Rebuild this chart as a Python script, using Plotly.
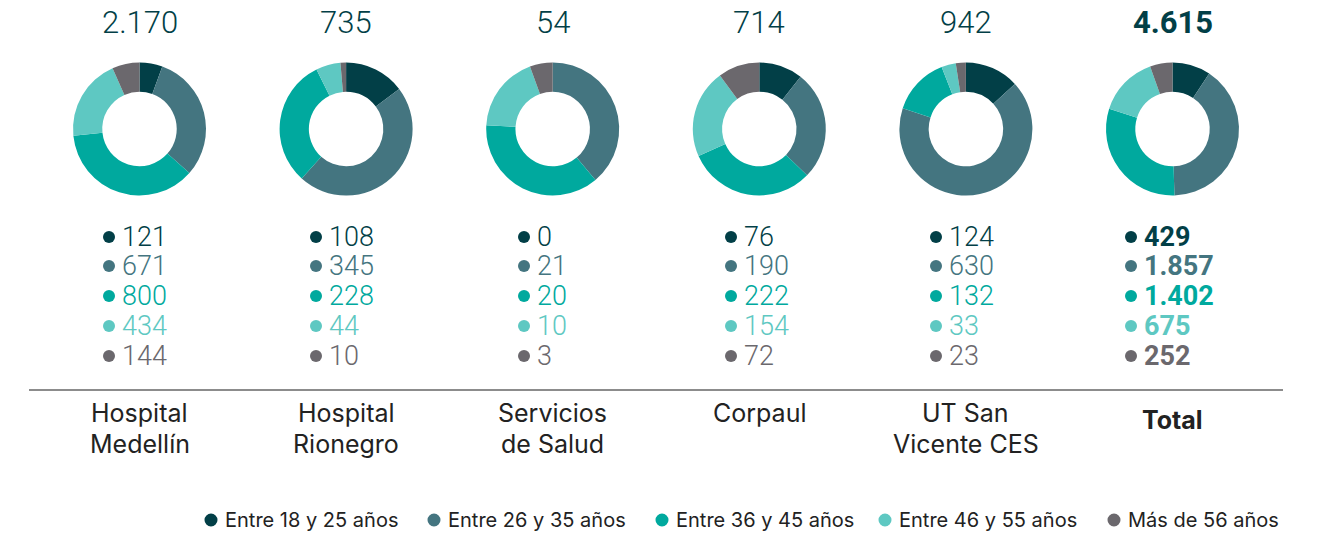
import plotly.graph_objects as go

W, H = 1326, 536

categories = ["Hospital Medellín", "Hospital Rionegro", "Servicios de Salud", "Corpaul", "UT San Vicente CES", "Total"]
category_lines = [["Hospital", "Medellín"], ["Hospital", "Rionegro"], ["Servicios", "de Salud"], ["Corpaul"], ["UT San", "Vicente CES"], ["Total"]]
totals = ["2.170", "735", "54", "714", "942", "4.615"]
age_groups = ["Entre 18 y 25 años", "Entre 26 y 35 años", "Entre 36 y 45 años", "Entre 46 y 55 años", "Más de 56 años"]

hosp_medellin = [121, 671, 800, 434, 144]
hosp_rionegro = [108, 345, 228, 44, 10]
servicios_salud = [0, 21, 20, 10, 3]
corpaul = [76, 190, 222, 154, 72]
ut_san_vicente = [124, 630, 132, 33, 23]
total = [429, 1857, 1402, 675, 252]
series = [hosp_medellin, hosp_rionegro, servicios_salud, corpaul, ut_san_vicente, total]

value_labels = [
    ["121", "671", "800", "434", "144"],
    ["108", "345", "228", "44", "10"],
    ["0", "21", "20", "10", "3"],
    ["76", "190", "222", "154", "72"],
    ["124", "630", "132", "33", "23"],
    ["429", "1.857", "1.402", "675", "252"],
]

colors = ["#023f47", "#447580", "#00a99e", "#5ec8c2", "#6b686d"]

# layout geometry (pixels in the window)
centers_x = [139.5, 346.1, 552.7, 759.3, 965.9, 1172.5]
center_y = 129
radius = 66.5
bullet_x = [109, 316, 524, 731, 936, 1131]
row_y = [237, 266, 296, 326, 356]
label_line_y = [413, 444]
total_label_y = 420
legend_bx = [211, 434, 662, 885, 1114]
legend_y = 520

def px(x):
    return x / W

def py(y):
    return 1 - y / H

fig = go.Figure()

for i, vals in enumerate(series):
    cx = centers_x[i]
    fig.add_trace(go.Pie(
        values=vals,
        labels=age_groups,
        hole=0.56,
        sort=False,
        direction="clockwise",
        rotation=0,
        textinfo="none",
        hoverinfo="label+value",
        marker=dict(colors=colors, line=dict(width=0)),
        domain=dict(x=[px(cx - radius), px(cx + radius)], y=[py(center_y + radius), py(center_y - radius)]),
        showlegend=False,
        name=categories[i],
    ))

annotations = []
shapes = []
num_font = "Roboto"
label_font = "Inter"
is_total = [False] * 5 + [True]

for i in range(6):
    cx = centers_x[i]
    b = is_total[i]
    annotations.append(dict(
        x=px(cx), y=py(23), xref="paper", yref="paper",
        text=("<b>%s</b>" % totals[i]) if b else totals[i],
        showarrow=False, xanchor="center", yanchor="middle",
        font=dict(family=num_font, size=31, color="#023f47", weight=700 if b else 300),
    ))
    for j in range(5):
        bx = bullet_x[i]
        r = 6
        shapes.append(dict(type="circle", xref="paper", yref="paper",
                           x0=px(bx - r), x1=px(bx + r), y0=py(row_y[j] + r), y1=py(row_y[j] - r),
                           fillcolor=colors[j], line=dict(width=0)))
        annotations.append(dict(
            x=px(bx + 12), y=py(row_y[j]), xref="paper", yref="paper",
            text=("<b>%s</b>" % value_labels[i][j]) if b else value_labels[i][j],
            showarrow=False, xanchor="left", yanchor="middle", borderpad=0,
            font=dict(family=num_font, size=27, color=colors[j], weight=700 if b else 300),
        ))
    lines = category_lines[i]
    for li, line in enumerate(lines):
        yy = total_label_y if b else label_line_y[li]
        annotations.append(dict(
            x=px(cx), y=py(yy), xref="paper", yref="paper",
            text=("<b>%s</b>" % line) if b else line,
            showarrow=False, xanchor="center", yanchor="middle", borderpad=0,
            font=dict(family=label_font, size=25, color="#222222"),
        ))

shapes.append(dict(type="line", xref="paper", yref="paper",
                   x0=px(29), x1=px(1283), y0=py(390), y1=py(390),
                   line=dict(color="#666666", width=1.5)))

for k in range(5):
    bx = legend_bx[k]
    r = 6.5
    shapes.append(dict(type="circle", xref="paper", yref="paper",
                       x0=px(bx - r), x1=px(bx + r), y0=py(legend_y + r), y1=py(legend_y - r),
                       fillcolor=colors[k], line=dict(width=0)))
    annotations.append(dict(
        x=px(bx + 12), y=py(legend_y), xref="paper", yref="paper", text=age_groups[k],
        showarrow=False, xanchor="left", yanchor="middle",
        font=dict(family=label_font, size=20, color="#222222"),
    ))

fig.update_layout(
    width=W, height=H,
    margin=dict(l=0, r=0, t=0, b=0),
    paper_bgcolor="white", plot_bgcolor="white",
    annotations=annotations, shapes=shapes,
    showlegend=False,
)

fig.write_html("out.html", config={"displayModeBar": False},
               post_script="document.body.style.margin='0';")
